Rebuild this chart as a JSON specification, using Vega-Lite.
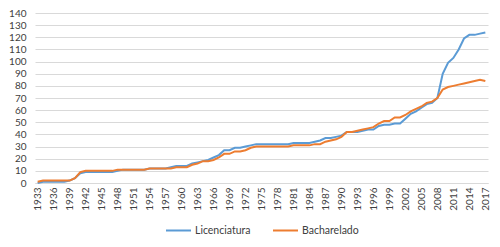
{
  "$schema": "https://vega.github.io/schema/vega-lite/v6.json",
  "autosize": {"type": "none"},
  "width": 453,
  "height": 170,
  "padding": {"left": 35, "top": 13, "right": 12, "bottom": 64},
  "background": "white",
  "data": {"values": [
    {"ano":1933,"Licenciatura":0,"Bacharelado":1},
    {"ano":1934,"Licenciatura":1,"Bacharelado":2},
    {"ano":1935,"Licenciatura":1,"Bacharelado":2},
    {"ano":1936,"Licenciatura":1,"Bacharelado":2},
    {"ano":1937,"Licenciatura":1,"Bacharelado":2},
    {"ano":1938,"Licenciatura":1,"Bacharelado":2},
    {"ano":1939,"Licenciatura":2,"Bacharelado":2},
    {"ano":1940,"Licenciatura":4,"Bacharelado":4},
    {"ano":1941,"Licenciatura":8,"Bacharelado":9},
    {"ano":1942,"Licenciatura":9,"Bacharelado":10},
    {"ano":1943,"Licenciatura":9,"Bacharelado":10},
    {"ano":1944,"Licenciatura":9,"Bacharelado":10},
    {"ano":1945,"Licenciatura":9,"Bacharelado":10},
    {"ano":1946,"Licenciatura":9,"Bacharelado":10},
    {"ano":1947,"Licenciatura":9,"Bacharelado":10},
    {"ano":1948,"Licenciatura":10,"Bacharelado":11},
    {"ano":1949,"Licenciatura":11,"Bacharelado":11},
    {"ano":1950,"Licenciatura":11,"Bacharelado":11},
    {"ano":1951,"Licenciatura":11,"Bacharelado":11},
    {"ano":1952,"Licenciatura":11,"Bacharelado":11},
    {"ano":1953,"Licenciatura":11,"Bacharelado":11},
    {"ano":1954,"Licenciatura":12,"Bacharelado":12},
    {"ano":1955,"Licenciatura":12,"Bacharelado":12},
    {"ano":1956,"Licenciatura":12,"Bacharelado":12},
    {"ano":1957,"Licenciatura":12,"Bacharelado":12},
    {"ano":1958,"Licenciatura":13,"Bacharelado":12},
    {"ano":1959,"Licenciatura":14,"Bacharelado":13},
    {"ano":1960,"Licenciatura":14,"Bacharelado":13},
    {"ano":1961,"Licenciatura":14,"Bacharelado":13},
    {"ano":1962,"Licenciatura":16,"Bacharelado":15},
    {"ano":1963,"Licenciatura":17,"Bacharelado":16},
    {"ano":1964,"Licenciatura":18,"Bacharelado":18},
    {"ano":1965,"Licenciatura":19,"Bacharelado":18},
    {"ano":1966,"Licenciatura":21,"Bacharelado":19},
    {"ano":1967,"Licenciatura":23,"Bacharelado":21},
    {"ano":1968,"Licenciatura":27,"Bacharelado":24},
    {"ano":1969,"Licenciatura":27,"Bacharelado":24},
    {"ano":1970,"Licenciatura":29,"Bacharelado":26},
    {"ano":1971,"Licenciatura":29,"Bacharelado":26},
    {"ano":1972,"Licenciatura":30,"Bacharelado":27},
    {"ano":1973,"Licenciatura":31,"Bacharelado":29},
    {"ano":1974,"Licenciatura":32,"Bacharelado":30},
    {"ano":1975,"Licenciatura":32,"Bacharelado":30},
    {"ano":1976,"Licenciatura":32,"Bacharelado":30},
    {"ano":1977,"Licenciatura":32,"Bacharelado":30},
    {"ano":1978,"Licenciatura":32,"Bacharelado":30},
    {"ano":1979,"Licenciatura":32,"Bacharelado":30},
    {"ano":1980,"Licenciatura":32,"Bacharelado":30},
    {"ano":1981,"Licenciatura":33,"Bacharelado":31},
    {"ano":1982,"Licenciatura":33,"Bacharelado":31},
    {"ano":1983,"Licenciatura":33,"Bacharelado":31},
    {"ano":1984,"Licenciatura":33,"Bacharelado":31},
    {"ano":1985,"Licenciatura":34,"Bacharelado":32},
    {"ano":1986,"Licenciatura":35,"Bacharelado":32},
    {"ano":1987,"Licenciatura":37,"Bacharelado":34},
    {"ano":1988,"Licenciatura":37,"Bacharelado":35},
    {"ano":1989,"Licenciatura":38,"Bacharelado":36},
    {"ano":1990,"Licenciatura":39,"Bacharelado":38},
    {"ano":1991,"Licenciatura":42,"Bacharelado":42},
    {"ano":1992,"Licenciatura":42,"Bacharelado":42},
    {"ano":1993,"Licenciatura":42,"Bacharelado":43},
    {"ano":1994,"Licenciatura":43,"Bacharelado":44},
    {"ano":1995,"Licenciatura":44,"Bacharelado":45},
    {"ano":1996,"Licenciatura":44,"Bacharelado":46},
    {"ano":1997,"Licenciatura":47,"Bacharelado":49},
    {"ano":1998,"Licenciatura":48,"Bacharelado":51},
    {"ano":1999,"Licenciatura":48,"Bacharelado":51},
    {"ano":2000,"Licenciatura":49,"Bacharelado":54},
    {"ano":2001,"Licenciatura":49,"Bacharelado":54},
    {"ano":2002,"Licenciatura":53,"Bacharelado":56},
    {"ano":2003,"Licenciatura":57,"Bacharelado":59},
    {"ano":2004,"Licenciatura":59,"Bacharelado":61},
    {"ano":2005,"Licenciatura":62,"Bacharelado":63},
    {"ano":2006,"Licenciatura":65,"Bacharelado":66},
    {"ano":2007,"Licenciatura":66,"Bacharelado":67},
    {"ano":2008,"Licenciatura":70,"Bacharelado":70},
    {"ano":2009,"Licenciatura":90,"Bacharelado":77},
    {"ano":2010,"Licenciatura":99,"Bacharelado":79},
    {"ano":2011,"Licenciatura":103,"Bacharelado":80},
    {"ano":2012,"Licenciatura":110,"Bacharelado":81},
    {"ano":2013,"Licenciatura":119,"Bacharelado":82},
    {"ano":2014,"Licenciatura":122,"Bacharelado":83},
    {"ano":2015,"Licenciatura":122,"Bacharelado":84},
    {"ano":2016,"Licenciatura":123,"Bacharelado":85},
    {"ano":2017,"Licenciatura":124,"Bacharelado":84}
  ]},
  "transform": [{"fold": ["Licenciatura", "Bacharelado"], "as": ["serie", "valor"]}],
  "mark": {"type": "line", "strokeWidth": 2, "interpolate": "linear"},
  "encoding": {
    "x": {
      "field": "ano", "type": "quantitative",
      "scale": {"domain": [1932.5, 2017.5], "nice": false, "zero": false},
      "axis": {
        "values": [1933,1936,1939,1942,1945,1948,1951,1954,1957,1960,1963,1966,1969,1972,1975,1978,1981,1984,1987,1990,1993,1996,1999,2002,2005,2008,2011,2014,2017],
        "format": "d", "labelAngle": -90, "labelAlign": "right", "labelBaseline": "middle",
        "labelFont": "Lato", "labelFontSize": 10, "labelColor": "#404040",
        "labelPadding": 4, "labelOverlap": false, "labelFlush": false,
        "grid": false, "ticks": false, "domainColor": "#d9d9d9", "domainWidth": 1, "title": null
      }
    },
    "y": {
      "field": "valor", "type": "quantitative",
      "scale": {"domain": [0, 140], "nice": false},
      "axis": {
        "values": [0,10,20,30,40,50,60,70,80,90,100,110,120,130,140],
        "labelFont": "Lato", "labelFontSize": 10, "labelColor": "#404040",
        "labelPadding": 9, "labelOverlap": false, "grid": true, "gridColor": "#d9d9d9", "gridWidth": 1,
        "domain": false, "ticks": false, "title": null
      }
    },
    "color": {
      "field": "serie", "type": "nominal",
      "scale": {"domain": ["Licenciatura", "Bacharelado"], "range": ["#5b9bd5", "#ed7d31"]},
      "legend": {
        "orient": "none", "legendX": 130, "legendY": 204, "direction": "horizontal",
        "columns": 2,
        "title": null, "symbolType": "stroke", "symbolStrokeWidth": 2, "symbolSize": 625,
        "labelFont": "Lato", "labelFontSize": 10.5, "labelColor": "#404040",
        "columnPadding": 18, "labelOffset": 3
      }
    }
  },
  "config": {"view": {"stroke": null}}
}
